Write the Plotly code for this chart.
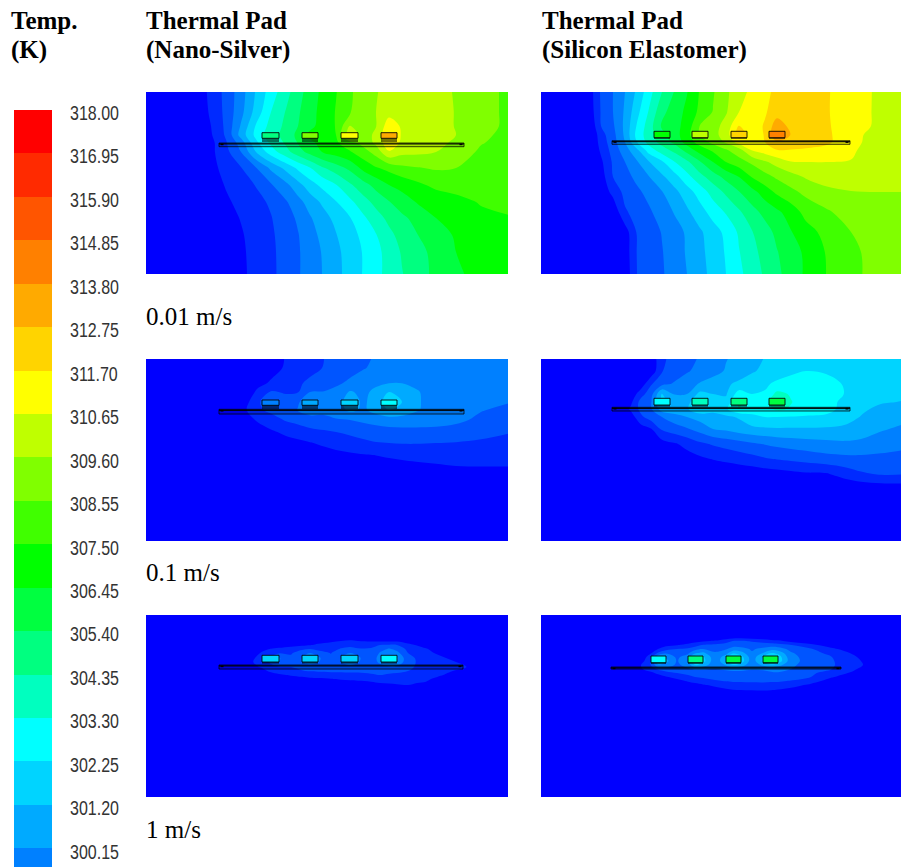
import numpy as np
import plotly.graph_objects as go

W, H = 901, 867

# ---- legend ----------------------------------------------------------------
LEGEND_LABELS = ["318.00","316.95","315.90","314.85","313.80","312.75","311.70","310.65","309.60",
                 "308.55","307.50","306.45","305.40","304.35","303.30","302.25","301.20","300.15"]
LEGEND_VALUES = [318.00,316.95,315.90,314.85,313.80,312.75,311.70,310.65,309.60,
                 308.55,307.50,306.45,305.40,304.35,303.30,302.25,301.20,300.15]
BAND_COLOURS = ["#0000ff","#002aff","#0055ff","#0080ff","#00aaff","#00d4ff","#00ffff",
                "#00ffbf","#00ff80","#00ff40","#00ff00","#40ff00","#80ff00","#bfff00",
                "#ffff00","#ffd400","#ffaa00","#ff8000","#ff5500","#ff2a00","#ff0000"]
T_MIN = 295.95   # bottom of the lowest band
T_STEP = 1.05    # K per legend band

# ---- temperature fields, in legend-band units (0 = bottom of blue band) ------
NANO_001_X = [0,50,65,80,95,110,125,140,152,164,176,190,204,218,230,243,256,272,290,310,335,362]
NANO_001_Y = [0,20,34,43,51,60,76,93,110,126,143,160,182]
NANO_001 = [
 [0,.3,1.27,2.3,3.55,5.1,6.5,7.64,8.6,9.47,10.2,10.95,11.87,12.48,12.96,13.2,13.4,13.5,13.4,12.9,12.4,11.8],
 [0,.2,1.17,2.27,3.7,5.4,7,8.07,8.87,9.63,10.3,11.06,11.94,12.5,13,13.6,13.5,13.5,13.4,12.95,12.4,11.8],
 [0,0,1,2.22,4.1,6.1,7.35,8.25,9,9.7,10.4,11.05,13.05,12.4,12.96,14.6,13.85,13.6,13.4,12.95,12.4,11.8],
 [0,0,.9,2.15,4.4,6.3,7.6,8.3,9.3,10.3,10.4,11,13.6,12.6,13.2,14.9,13.9,13.6,13.5,13,12.2,11.75],
 [0,0,.7,1.9,3.45,5.75,7.2,8.15,9.05,9.75,10.3,10.85,11.6,12.4,13.2,14.7,13.8,13.5,13.3,12.8,12.05,11.7],
 [0,0,.75,1.7,3,5,6.5,7.65,8.55,9.35,10,10.45,10.9,11.6,12.4,13.9,13.3,13.2,13,12.5,11.85,11.6],
 [0,0,.7,1.33,1.95,2.95,4.2,5.3,6.2,6.95,7.85,8.55,9.25,10.35,10.9,11.3,11.75,11.95,12.1,12,11.7,11.5],
 [0,0,.55,1.07,1.55,2.05,2.9,3.75,4.65,5.55,6.25,6.95,7.85,8.65,9.35,10,10.35,10.8,11.25,11.5,11.5,11.4],
 [0,0,.4,.85,1.25,1.7,2.15,2.9,3.65,4.45,5.15,5.95,6.75,7.65,8.3,8.95,9.5,10.1,10.35,10.6,11.1,11.2],
 [0,0,.3,.65,1.05,1.5,1.95,2.6,3.15,3.9,4.55,5.3,5.95,6.85,7.6,8.25,8.8,9.35,10,10.3,10.7,10.95],
 [0,0,.25,.55,.9,1.4,1.85,2.45,2.95,3.6,4.25,4.95,5.6,6.3,6.95,7.75,8.35,9,9.6,10.1,10.4,10.7],
 [0,0,.2,.5,.85,1.3,1.8,2.4,2.9,3.45,4.05,4.75,5.45,6.1,6.7,7.4,8.1,8.7,9.3,10,10.25,10.4],
 [0,0,.2,.45,.8,1.3,1.8,2.35,2.9,3.45,4,4.7,5.4,6.1,6.7,7.35,7.95,8.6,9.25,9.9,10.2,10.3],
]
SILICON_001_X = [0,50,60,72,84,96,108,121,134,146,159,172,185,198,211,224,236,250,265,285,310,335,360]
SILICON_001_Y = [0,20,34,43,50,58,70,85,100,120,140,160,182]
SILICON_001 = [
 [0,.7,2.15,3,4,5.2,6.6,8,9.1,9.95,11.1,11.9,12.8,13.6,14.25,14.85,15.15,15.3,15.4,15.1,14.5,13.9,13.55],
 [0,.6,2.08,3,4.15,5.7,7.1,8.75,9.5,10.25,11.25,12.05,12.9,14,14.45,14.9,15.5,15.4,15.4,15.1,14.45,13.9,13.5],
 [0,.3,2,2.85,4.25,6.1,7.5,9.15,9.65,10.4,12.05,12.6,13.35,15.05,14.55,15.1,16.6,15.7,15.5,15.15,14.4,13.9,13.5],
 [0,0,1.6,2.65,4.2,6.35,7.55,8.75,9.6,10.6,12.1,12.65,13.45,15.5,14.6,15.05,16.9,15.95,15.6,15.2,14.4,13.6,13.4],
 [0,0,1.45,2.55,4,6,7.4,8.4,9.3,10.45,11.45,12.3,13.15,14.5,14.6,15,15.9,15.75,15.5,15.2,14.4,13.5,13.4],
 [0,0,1.2,2.4,3.55,4.8,6.5,7.55,8.35,9.4,10.5,11.2,11.9,12.6,14.1,14.55,14.98,14.95,14.85,14.7,14.2,13.4,13.35],
 [0,0,.8,2.15,3,3.9,4.95,5.85,7,7.8,8.9,10,11,11.6,12.2,12.85,13.4,13.95,14,14,13.95,13.4,13.3],
 [0,0,.5,2,2.65,3.25,3.95,4.8,5.65,6.65,7.65,8.5,9.3,10,11.05,11.65,12.15,12.6,13.1,13.5,13.7,13.45,13.2],
 [0,0,.3,1.3,2.3,2.8,3.3,3.95,4.75,5.55,6.45,7.4,8.2,8.95,9.65,10.5,11.2,11.75,12.25,12.7,12.95,13,13],
 [0,0,.1,.2,1.88,2.35,2.85,3.45,4.1,4.8,5.6,6.4,7.1,7.85,8.65,9.3,9.8,10.45,11.35,11.85,12.45,12.7,12.8],
 [0,0,0,.2,.5,2.1,2.55,3.05,3.6,4.15,4.85,5.55,6.25,7.15,7.95,8.6,9.25,9.95,10.6,11.3,12,12.4,12.65],
 [0,0,0,.2,.4,2.05,2.5,2.95,3.55,4.1,4.75,5.4,6.1,6.95,7.7,8.35,8.95,9.55,10.2,11.05,11.8,12.3,12.55],
 [0,0,0,.2,.3,2,2.45,2.9,3.45,4,4.65,5.3,6,6.75,7.5,8.15,8.75,9.5,10.15,11,11.75,12.3,12.5],
]
NANO_01_X = [0,100,112,125,140,152,164,178,190,204,218,230,243,256,270,290,310,335,362]
NANO_01_Y = [0,9,24,33,43,51,61,73,84,96,107,120,182]
NANO_01 = [
 [0,0,0,.65,1.05,1.35,1.65,2,2.25,2.55,2.85,3.1,3.3,3.45,3.55,3.6,3.6,3.6,3.55],
 [0,0,.3,.7,1.1,1.4,1.7,2.05,2.3,2.6,2.95,3.2,3.4,3.5,3.6,3.65,3.65,3.65,3.6],
 [0,.3,.75,1.1,1.5,1.85,2.2,2.5,2.8,3.2,3.5,3.75,3.98,3.98,3.8,3.6,3.55,3.5,3.45],
 [0,.45,1.2,2.1,1.9,1.95,3,3.05,3.3,4.1,3.75,4.3,5,4.9,4.1,3.6,3.45,3.35,3.25],
 [0,.7,1.9,2.5,2.4,2.9,3.6,3,3.5,4.5,3.8,4.6,5.4,5,4.15,3.55,3.45,3.3,3.05],
 [0,.95,1.8,2.25,2.7,3.05,3.45,3.2,3.55,4.2,3.85,4.4,5,4.7,4.1,3.6,3.35,3.05,2.8],
 [0,.7,1.1,1.55,2.1,2.35,2.6,2.8,2.9,3,3.2,3.35,3.5,3.5,3.5,3.4,3.2,2.8,2.5],
 [0,.4,.6,.85,1.2,1.4,1.7,1.85,2,2.2,2.4,2.55,2.65,2.7,2.7,2.7,2.6,2.3,2.05],
 [0,.2,.3,.45,.65,.8,.95,1.15,1.35,1.55,1.8,1.95,2,2.05,2.05,2,1.95,1.85,1.75],
 [0,.1,.15,.25,.35,.45,.55,.65,.75,.85,.95,1.02,1.15,1.25,1.35,1.45,1.45,1.45,1.4],
 [0,0,.05,.1,.15,.2,.25,.3,.35,.4,.45,.55,.62,.7,.78,.88,1,1.02,1.02],
 [0,0,0,0,0,0,0,0,0,0,0,.05,.1,.15,.2,.3,.4,.45,.45],
 [0,0,0,0,0,0,0,0,0,0,0,0,0,0,0,0,0,0,0],
]
SILICON_01_X = [0,80,90,100,110,121,134,146,159,172,185,198,211,224,236,250,265,285,305,320,340,360]
SILICON_01_Y = [0,12,25,35,43,50,58,70,85,100,115,130,182]
SILICON_01 = [
 [0,0,0,.1,.2,1.85,2.3,2.7,3.1,3.5,3.95,4.3,4.7,5.05,5.2,5.4,5.5,5.55,5.55,5.55,5.5,5.45],
 [0,0,0,.1,.3,1.95,2.45,2.9,3.3,3.6,4.1,4.5,4.9,5.2,5.5,5.8,6,5.9,5.7,5.6,5.55,5.5],
 [0,0,.1,.4,1.9,2.7,3.15,3.55,4.1,4.5,4.85,5.2,5.5,5.85,6.2,6.4,6.5,6.35,5.9,5.6,5.5,5.45],
 [0,.05,.3,1.6,2.6,5.1,3.9,4,5.3,5,4.9,6.5,6,6.1,7.3,6.9,6.5,6.4,5.95,5.5,5.3,5.2],
 [0,0,.8,2.4,2.9,5.2,4.6,4.75,5.7,5.2,5.3,7.2,6.15,6.6,7.8,7.05,6.5,6.4,5.7,5.3,5.1,4.97],
 [0,.2,1.2,2.3,2.9,4.5,4.7,4.9,5.8,5.3,5.85,7,6.2,6.6,7.2,6.9,6.5,6.3,5.7,5.2,4.75,4.5],
 [0,.1,.5,1.8,2.5,3,3.6,4,4.4,4.65,4.8,5.1,5.9,6,6,5.95,5.9,5.85,5.4,4.95,4.6,4.3],
 [0,0,.1,.5,.9,2.15,2.55,2.9,3.4,4,4.2,4.5,4.7,4.85,4.9,4.9,4.9,4.85,4.75,4.6,4.1,3.85],
 [0,0,0,.1,.3,.55,.9,1.3,1.8,2.1,2.35,2.6,2.85,3.05,3.25,3.4,3.55,3.7,3.8,3.7,3.5,3.3],
 [0,0,0,0,0,.1,.3,.55,.8,1.05,1.25,1.45,1.65,1.9,2.05,2.2,2.35,2.6,2.7,2.75,2.7,2.6],
 [0,0,0,0,0,0,0,0,0,0,.1,.2,.3,.45,.55,.7,.85,.9,1.45,1.85,2.1,2.05],
 [0,0,0,0,0,0,0,0,0,0,0,0,0,0,0,0,0,0,.1,.2,.3,.4],
 [0,0,0,0,0,0,0,0,0,0,0,0,0,0,0,0,0,0,0,0,0,0],
]
NANO_1_X = [0,95,116,125,133,145,156,164,172,185,195,204,212,225,234,243,251,262,280,300,320,340,362]
NANO_1_Y = [0,26,30,34,38,43,47,52,56,60,64,68,72,78,182]
NANO_1 = [
 [0,0,0,0,0,0,0,0,0,0,0,0,0,0,0,0,0,0,0,0,0,0,0],
 [0,0,0,0,.1,.3,.5,.65,.75,.9,1,1.03,1,.9,.85,.85,.85,.75,.5,.2,0,0,0],
 [0,0,.2,.4,.5,.65,.8,.95,1.1,1.25,1.5,1.7,1.6,1.7,2,2.1,2,1.15,.75,.3,0,0,0],
 [0,0,.8,1.05,1.2,1.5,1.85,2,1.7,1.55,2.1,2.3,2.1,2.1,2.6,3.1,2.7,1.75,1.05,.55,.2,0,0],
 [0,0,1.1,1.6,1.9,1.9,2.5,3,2.5,1.95,2.9,3,2.7,2.05,3.1,3.6,3.3,2,1.2,.7,.35,.1,0],
 [0,.2,1.4,2.2,3.1,2.2,3,3.7,3.2,2.2,3,3.8,3.2,2.2,3.5,4.3,4.1,2.3,1.5,1,.6,.2,0],
 [0,.3,1.5,2.2,3.05,2.2,3,3.5,3.1,2.25,3,3.6,3.1,2.25,3.3,4.1,3.9,2.3,1.6,1.1,.9,.3,0],
 [0,.4,1.1,1.7,1.9,2,2.2,2.4,2.3,2.2,2.4,2.6,2.4,2.2,2.5,2.8,2.7,2.2,1.6,1.2,1.02,.3,0],
 [0,.1,.7,1.2,1.5,1.8,1.95,2.05,2.1,2.1,2.1,2.1,2.1,2.1,2.15,2.2,2.2,2,1.45,1.1,.8,.2,0],
 [0,0,.3,.6,.85,1.1,1.3,1.5,1.6,1.75,1.8,1.85,1.85,1.95,2,1.9,1.8,1.6,1.3,.95,.5,.1,0],
 [0,0,0,.1,.3,.5,.65,.75,.8,.95,1.1,1.2,1.25,1.3,1.35,1.4,1.4,1.3,1.1,.7,.2,0,0],
 [0,0,0,0,0,.1,.2,.25,.3,.4,.5,.6,.7,.85,1,1.05,1.1,1.05,.95,.35,0,0,0],
 [0,0,0,0,0,0,0,0,0,0,.1,.15,.2,.3,.45,.6,.75,.95,.7,.1,0,0,0],
 [0,0,0,0,0,0,0,0,0,0,0,0,0,0,0,0,0,0,0,0,0,0,0],
 [0,0,0,0,0,0,0,0,0,0,0,0,0,0,0,0,0,0,0,0,0,0,0],
]
SILICON_1_X = [0,85,100,110,117,125,136,147,154,162,174,185,192,200,211,222,230,237,250,270,290,310,330,360]
SILICON_1_Y = [0,22,26,30,34,38,42,46,50,54,58,62,66,70,76,182]
SILICON_1 = [
 [0,0,0,0,0,0,0,0,0,0,0,0,0,0,0,0,0,0,0,0,0,0,0,0],
 [0,0,0,0,0,0,0,0,0,0,.1,.3,.4,.45,.35,.2,.1,0,0,0,0,0,0,0],
 [0,0,0,.1,.2,.3,.45,.6,.7,.85,1.1,1.6,2.05,2.1,1.9,1.6,1.3,1.2,.7,.4,.1,0,0,0],
 [0,0,0,.3,.5,.7,.95,1.2,1.5,2.1,2.25,2.4,2.6,2.6,2.5,2.5,2.5,2.4,2.05,1.2,.6,.2,0,0],
 [0,0,.1,.5,1,1.6,2,2.2,2.6,3,2.7,2.9,3.4,3.3,2.9,3.2,3.6,3.5,2.7,2.1,1.2,.6,.1,0],
 [0,0,.2,.9,2.1,2.9,2.5,2.8,3.8,4.2,3.1,3.6,4.8,4.4,3.1,4,5,4.7,3.1,2.4,1.7,.95,.2,0],
 [0,0,.3,1.6,4,3.8,2.8,3.5,5.6,5.2,3.3,4.5,6.2,5.4,3.4,5,6.2,5.6,3.3,2.5,2.05,1.3,.3,0],
 [0,0,.5,2,4.8,4.3,2.9,3.8,6,5.4,3.3,4.8,6.6,5.6,3.4,5.2,6.5,5.7,3.4,2.5,2.1,1.5,.5,0],
 [0,.1,1,2.05,3.8,3.6,2.8,3.4,5,4.6,3.2,4.1,5,4.5,3.3,4.2,4.8,4.4,3.2,2.5,2.1,1.6,.6,0],
 [0,0,.9,1.5,2.2,2.6,2.5,2.85,3.1,3.1,3,3.1,3.2,3.2,3.05,3.1,3.2,3.2,3,2.4,2.05,1.3,.3,0],
 [0,0,.3,.8,1.2,1.6,2,2.3,2.5,2.6,2.7,2.8,2.8,2.8,2.8,2.8,2.9,2.95,2.7,2.2,1.5,.9,.1,0],
 [0,0,0,.3,.6,.9,1.3,1.7,2,2.15,2.3,2.45,2.5,2.5,2.5,2.55,2.55,2.55,2.4,2,1.1,.5,0,0],
 [0,0,0,0,.1,.3,.7,1.1,1.3,1.6,1.9,2.05,2.1,2.1,2.15,2.15,2.1,2.1,1.95,1.4,.6,.1,0,0],
 [0,0,0,0,0,0,.2,.5,.7,.9,1.2,1.5,1.7,1.7,1.7,1.75,1.7,1.65,1.35,.8,.2,0,0,0],
 [0,0,0,0,0,0,0,.1,.2,.3,.5,.7,.8,.85,.9,.95,.9,.8,.6,.2,0,0,0,0],
 [0,0,0,0,0,0,0,0,0,0,0,0,0,0,0,0,0,0,0,0,0,0,0,0],
]
# chip temperatures, legend-band units, one per chip
CHIPS_NANO_001 = [8, 12, 14, 16]
CHIPS_SILICON_001 = [10, 13, 15, 17]
CHIPS_NANO_01 = [3, 4, 5, 6]
CHIPS_SILICON_01 = [6, 7, 8, 9]
CHIPS_NANO_1 = [5, 5, 5, 6]
CHIPS_SILICON_1 = [6, 8, 9, 9]

# ---- panel geometry (pixels in the page) -------------------------------------
PANELS = [
 dict(px=(146,508), py=(92,274),  xs=NANO_001_X, ys=NANO_001_Y, z=NANO_001, chips=CHIPS_NANO_001,
      cx=[(116,133),(156,172),(195,212),(235,251)], cy=(40.7,46.3,50), board=(73,318,51,54.7)),
 dict(px=(541,901), py=(92,274),  xs=SILICON_001_X, ys=SILICON_001_Y, z=SILICON_001, chips=CHIPS_SILICON_001,
      cx=[(113,129),(151,167),(190,206),(228,244)], cy=(39.3,45.7,47), board=(71,309,48.7,52.3)),
 dict(px=(146,508), py=(359,541), xs=NANO_01_X, ys=NANO_01_Y, z=NANO_01, chips=CHIPS_NANO_01,
      cx=[(116,133),(156,172),(195,212),(235,251)], cy=(41,46.3,50), board=(73,318,50.3,55)),
 dict(px=(541,901), py=(359,541), xs=SILICON_01_X, ys=SILICON_01_Y, z=SILICON_01, chips=CHIPS_SILICON_01,
      cx=[(113,129),(151,167),(190,206),(228,244)], cy=(39.3,46,47.7), board=(71,309,48.3,52)),
 dict(px=(146,508), py=(615,797), xs=NANO_1_X, ys=NANO_1_Y, z=NANO_1, chips=CHIPS_NANO_1,
      cx=[(116,133),(156,172),(195,212),(235,251)], cy=(40.3,47,48.7), board=(73,317,50,54)),
 dict(px=(541,901), py=(615,797), xs=SILICON_1_X, ys=SILICON_1_Y, z=SILICON_1, chips=CHIPS_SILICON_1,
      cx=[(110,125),(147,162),(185,200),(222,237)], cy=(41,47.7,49), board=(70,300,52,54)),
]

def pxx(v): return v / W
def pxy(v): return 1 - v / H

n = len(BAND_COLOURS)
scale = []
for i, c in enumerate(BAND_COLOURS):
    scale += [[i / n, c], [(i + 1) / n, c]]
T_MAX = T_MIN + n * T_STEP

fig = go.Figure()
layout = dict(width=W, height=H, margin=dict(l=0, r=0, t=0, b=0, pad=0, autoexpand=False),
              paper_bgcolor="white", plot_bgcolor="white", showlegend=False)
shapes = []

for i, p in enumerate(PANELS, start=1):
    sx = "" if i == 1 else str(i)
    T = T_MIN + T_STEP * np.array(p["z"], dtype=float)
    fig.add_trace(go.Contour(
        x=p["xs"], y=p["ys"], z=T, xaxis="x" + sx, yaxis="y" + sx,
        colorscale=scale, zmin=T_MIN, zmax=T_MAX, showscale=False,
        contours=dict(coloring="fill", start=T_MIN + T_STEP, end=T_MAX - T_STEP, size=T_STEP, showlines=False),
        line=dict(width=0), hoverinfo="skip"))
    wp = p["px"][1] - p["px"][0]
    hp = p["py"][1] - p["py"][0]
    layout["xaxis" + sx] = dict(domain=[pxx(p["px"][0]), pxx(p["px"][1])], range=[0, wp],
                                visible=False, anchor="y" + sx, fixedrange=True)
    layout["yaxis" + sx] = dict(domain=[pxy(p["py"][1]), pxy(p["py"][0])], range=[hp, 0],
                                visible=False, anchor="x" + sx, fixedrange=True)
    ref = dict(xref="x" + sx, yref="y" + sx)
    bx0, bx1, by0, by1 = p["board"]
    # board: translucent body, heavy upper line, thin lower line, end marks
    shapes.append(dict(type="rect", x0=bx0, x1=bx1, y0=by0, y1=by1, fillcolor="rgba(0,0,0,0.12)",
                       line=dict(color="rgba(0,0,0,0.75)", width=1), **ref))
    shapes.append(dict(type="line", x0=bx0, x1=bx1, y0=by0 + 0.9, y1=by0 + 0.9,
                       line=dict(color="rgba(0,0,0,0.9)", width=1.4), **ref))
    for ex in (bx0 + 3, bx1 - 3):
        shapes.append(dict(type="rect", x0=ex - 1.5, x1=ex + 1.5, y0=by0 + 0.6, y1=by0 + 2.2,
                           fillcolor="black", line=dict(width=0), **ref))
    top, mid, bot = p["cy"]
    for (c0, c1), band in zip(p["cx"], p["chips"]):
        col = BAND_COLOURS[int(band)]
        shapes.append(dict(type="rect", x0=c0, x1=c1, y0=top, y1=mid, fillcolor=col,
                           line=dict(color="rgba(0,0,0,0.85)", width=1), **ref))
        shapes.append(dict(type="rect", x0=c0, x1=c1, y0=mid, y1=bot, fillcolor="rgba(0,0,0,0.55)",
                           line=dict(width=0), **ref))

# legend strip, drawn as a heat-map on its own temperature axis
lx = len(PANELS) + 1
LEG_TOP, LEG_BOT = 110, 867
leg_low = LEGEND_VALUES[0] - T_STEP * (LEG_BOT - LEG_TOP) / 43.45
centres = [T_MIN + T_STEP * (k + 0.5) for k in range(n)]
fig.add_trace(go.Heatmap(
    x=[0], y=centres, z=[[c] for c in centres], xaxis=f"x{lx}", yaxis=f"y{lx}",
    colorscale=scale, zmin=T_MIN, zmax=T_MAX, showscale=False, hoverinfo="skip"))
layout[f"xaxis{lx}"] = dict(domain=[pxx(14), pxx(52)], range=[-0.5, 0.5], visible=False,
                            anchor=f"y{lx}", fixedrange=True)
layout[f"yaxis{lx}"] = dict(domain=[pxy(LEG_BOT), pxy(LEG_TOP)], range=[leg_low, LEGEND_VALUES[0]],
                            anchor=f"x{lx}", side="right", showgrid=False, zeroline=False, showline=False,
                            ticks="", tickmode="array", tickvals=LEGEND_VALUES, ticktext=LEGEND_LABELS,
                            tickfont=dict(family="Liberation Sans", size=20, color="#333333"),
                            ticklabelstandoff=17, ticklabelshift=3, fixedrange=True, automargin=False)

ann = []
def text(x, y, s, bold=False, size=25):
    ann.append(dict(xref="paper", yref="paper", x=pxx(x), y=pxy(y), xanchor="left", yanchor="middle",
                    xshift=-2, yshift=1,
                    text=f"<b>{s}</b>" if bold else s, showarrow=False, align="left",
                    font=dict(family="Liberation Serif, serif", size=size, color="black")))

TITLES = [(11, 21, "Temp."), (11, 51, "(K)"), (146, 21, "Thermal Pad"), (146, 51, "(Nano-Silver)"),
          (542, 21, "Thermal Pad"), (542, 51, "(Silicon Elastomer)")]
SPEEDS = [(146, 317, "0.01 m/s"), (146, 573, "0.1 m/s"), (146, 830, "1 m/s")]
for x, y, s in TITLES:
    text(x, y, s, bold=True)
for x, y, s in SPEEDS:
    text(x, y, s)

layout["shapes"] = shapes
layout["annotations"] = ann
fig.update_layout(**layout)

# page fit: no body margin, and the legend numerals set condensed as in the original
POST = """
document.documentElement.style.margin='0';
document.documentElement.style.overflow='hidden';
document.body.style.margin='0';
document.body.style.overflow='hidden';
var condense=function(){
  document.querySelectorAll('.ytick text, .yaxislayer-above text').forEach(function(t){
    var old=t.getAttribute('transform')||'';
    if(old.indexOf('scale')>=0) return;
    var x=t.getBBox().x;
    t.setAttribute('transform', old+' translate('+x+',0) scale(0.8,1) translate('+(-x)+',0)');
  });
};
condense();
setInterval(condense,50);
"""
fig.write_html("out.html", post_script=POST, config=dict(displayModeBar=False))
